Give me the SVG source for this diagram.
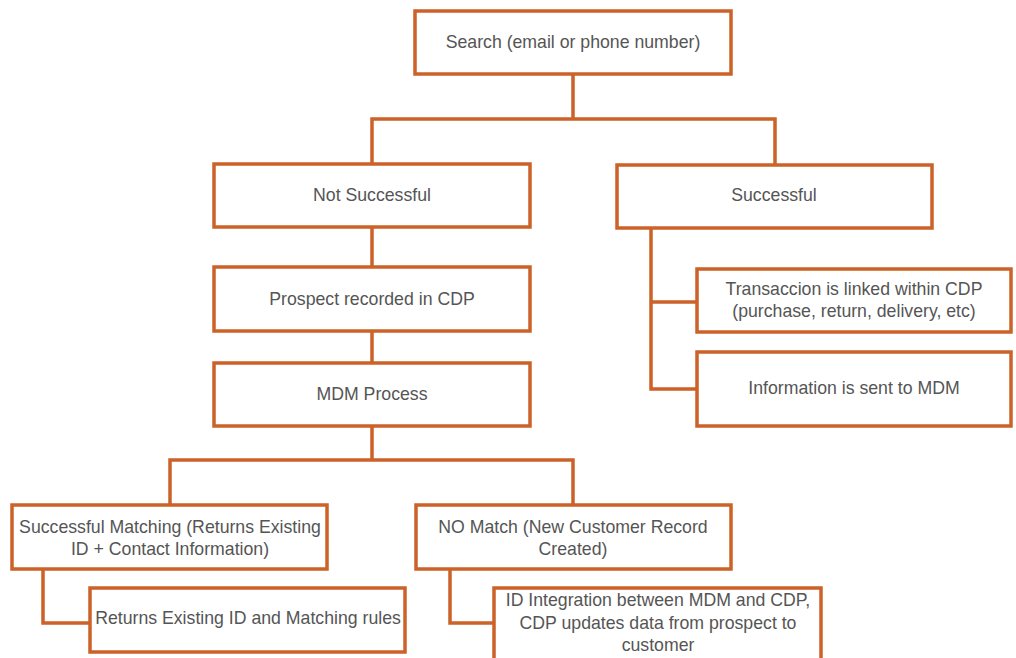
<svg xmlns="http://www.w3.org/2000/svg" width="1016" height="658" viewBox="0 0 1016 658">
<style>
.box{fill:#fff;stroke:#CC6228;stroke-width:3.5}
.ln{fill:none;stroke:#CC6228;stroke-width:3.5;stroke-linejoin:miter}
text{font-family:"Liberation Sans",Arial,sans-serif;font-size:17.7px;fill:#555555;text-anchor:middle}
</style>
<rect width="1016" height="658" fill="#fff"/>
<g id="connectors">
<path class="ln" d="M573 74V119M372 164V119H775V164"/>
<path class="ln" d="M651 228V389H697M651 302H697"/>
<path class="ln" d="M372 227V267M372 331V363M372 426V460"/>
<path class="ln" d="M170 505V460H573V505"/>
<path class="ln" d="M43 569V623H90"/>
<path class="ln" d="M450 569V623H494"/>
</g>
<g id="search"><rect class="box" x="415" y="11" width="316" height="63"/><text x="573" y="48">Search (email or phone number)</text></g>
<g id="not-successful"><rect class="box" x="214" y="164" width="316" height="63"/><text x="372" y="201">Not Successful</text></g>
<g id="successful"><rect class="box" x="617" y="165" width="315" height="63"/><text x="774" y="201">Successful</text></g>
<g id="transaccion"><rect class="box" x="697" y="269" width="314" height="63"/><text x="854" y="295">Transaccion is linked within CDP</text><text x="854" y="317">(purchase, return, delivery, etc)</text></g>
<g id="info-mdm"><rect class="box" x="697" y="352" width="314" height="74"/><text x="854" y="394">Information is sent to MDM</text></g>
<g id="prospect"><rect class="box" x="214" y="267" width="316" height="64"/><text x="372" y="305">Prospect recorded in CDP</text></g>
<g id="mdm-process"><rect class="box" x="214" y="363" width="316" height="63"/><text x="372" y="400">MDM Process</text></g>
<g id="successful-matching"><rect class="box" x="12" y="505" width="315" height="64"/><text x="170" y="533">Successful Matching (Returns Existing</text><text x="170" y="555">ID + Contact Information)</text></g>
<g id="no-match"><rect class="box" x="416" y="505" width="315" height="64"/><text x="573" y="533">NO Match (New Customer Record</text><text x="573" y="555">Created)</text></g>
<g id="returns-existing"><rect class="box" x="90" y="588" width="315" height="64"/><text x="248" y="624">Returns Existing ID and Matching rules</text></g>
<g id="id-integration"><rect class="box" x="494" y="588" width="327" height="82"/><text x="658" y="606">ID Integration between MDM and CDP,</text><text x="658" y="629">CDP updates data from prospect to</text><text x="658" y="651">customer</text></g>
</svg>
